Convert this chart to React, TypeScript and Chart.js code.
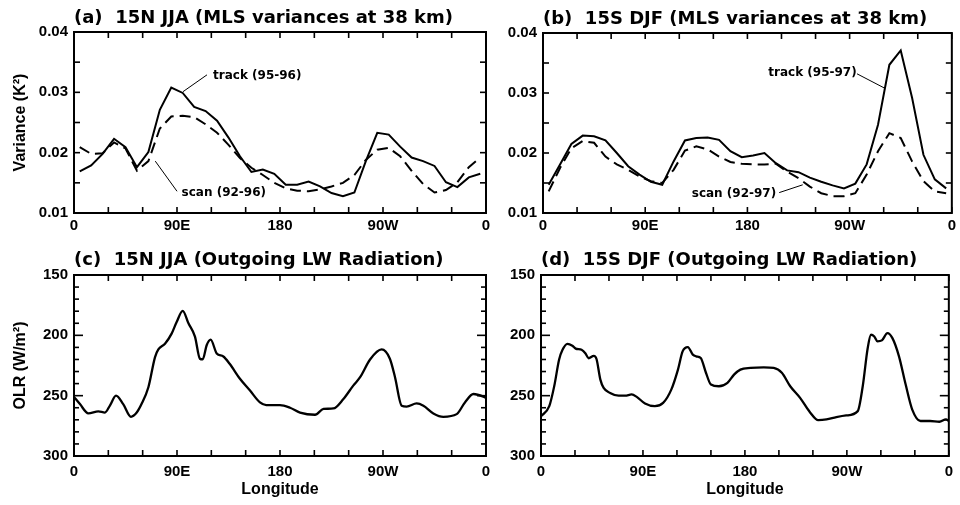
import React, { useEffect, useRef } from 'react';
import { Chart, registerables } from 'chart.js';

Chart.register(...registerables);

// ---------- axis ticks ----------
const lonTickValues = [0, 90, 180, 270, 360];
const lonTickLabels = ['0', '90E', '180', '90W', '0'];
const lonMinorTicks = [0, 30, 60, 90, 120, 150, 180, 210, 240, 270, 300, 330, 360];

const varTickValues = [0.01, 0.02, 0.03, 0.04];
const varMinorTicks = [0.01, 0.015, 0.02, 0.025, 0.03, 0.035, 0.04];

const olrTickValues = [150, 200, 250, 300];
const olrMinorTicks = [150, 160, 170, 180, 190, 200, 210, 220, 230, 240, 250, 260, 270, 280, 290, 300];

// ---------- MLS variance data (longitude in degrees east, 0..360) ----------
const mlsLon = [5, 15, 25, 35, 45, 55, 65, 75, 85, 95, 105, 115, 125, 135, 145, 155, 165, 175,
  185, 195, 205, 215, 225, 235, 245, 255, 265, 275, 285, 295, 305, 315, 325, 335, 345, 355];

const trackA = [0.0169, 0.0179, 0.0198, 0.0223, 0.0209, 0.0176, 0.0201, 0.0271, 0.0308, 0.0299,
  0.0276, 0.0269, 0.0253, 0.0225, 0.0194, 0.0168, 0.0172, 0.0165, 0.0147, 0.0147, 0.0152, 0.0144,
  0.0133, 0.0128, 0.0134, 0.0186, 0.0233, 0.0230, 0.0210, 0.0192, 0.0186, 0.0178, 0.0151, 0.0143,
  0.0159, 0.0165];
const scanA = [0.0209, 0.0198, 0.0199, 0.0217, 0.0207, 0.0170, 0.0186, 0.0240, 0.0260, 0.0261,
  0.0259, 0.0247, 0.0233, 0.0213, 0.0191, 0.0175, 0.0163, 0.0150, 0.0141, 0.0137, 0.0136, 0.0139,
  0.0144, 0.0150, 0.0163, 0.0188, 0.0205, 0.0208, 0.0194, 0.0170, 0.0148, 0.0134, 0.0138, 0.0151,
  0.0176, 0.0192];

const trackB = [0.0147, 0.0181, 0.0215, 0.0229, 0.0228, 0.0221, 0.0200, 0.0178, 0.0164, 0.0152,
  0.0147, 0.0186, 0.0221, 0.0225, 0.0226, 0.0222, 0.0203, 0.0193, 0.0196, 0.0200, 0.0183, 0.0171,
  0.0168, 0.0159, 0.0152, 0.0146, 0.0141, 0.0149, 0.0181, 0.0247, 0.0347, 0.0371, 0.0292, 0.0197,
  0.0156, 0.0141];
const scanB = [0.0136, 0.0175, 0.0208, 0.0220, 0.0217, 0.0194, 0.0181, 0.0172, 0.0161, 0.0153,
  0.0150, 0.0172, 0.0204, 0.0211, 0.0206, 0.0194, 0.0185, 0.0182, 0.0181, 0.0181, 0.0182, 0.0169,
  0.0158, 0.0144, 0.0133, 0.0128, 0.0128, 0.0133, 0.0164, 0.0203, 0.0233, 0.0225, 0.0186, 0.0153,
  0.0136, 0.0133];

// ---------- OLR data ----------
const olrLonC = [0, 5.2, 12.5, 21.3, 27, 31.5, 36.7, 43, 49.8, 54.8, 59, 65, 70.8, 73.7, 79.5, 85.3,
  89.7, 95, 100, 105.7, 110, 112.4, 116, 119.4, 124.7, 130.5, 136, 145, 153.8, 162.5, 168, 180,
  188.8, 197.5, 210.6, 218, 226.6, 235.4, 244, 250, 258.7, 268.8, 276, 280.5, 286.3, 290.7, 299.4,
  305.3, 314, 322.7, 334.4, 341.6, 349, 357.7, 360];
const olrC = [251, 257, 264.7, 263, 264, 258, 250, 257, 267.5, 264, 257, 243, 218, 211.7, 207, 198.6,
  189, 179.7, 190, 201, 219.4, 220, 208, 203.6, 215, 217.5, 223.6, 236, 245.8, 255.6, 257.8, 257.8,
  260, 264, 265.8, 261, 260.6, 252.8, 241.7, 234.7, 220, 211.7, 219.4, 234.7, 258.3, 259, 256.4,
  258.3, 264.7, 267.5, 265.3, 255.6, 248.6, 250.8, 252];

const olrLonD = [0, 7.3, 11.7, 16, 19, 23.3, 27.7, 30.6, 35.8, 39.3, 42, 46.6, 49, 52.4, 55.3, 61,
  68.5, 74.3, 80, 84.5, 91.8, 100.5, 107.8, 115, 120.9, 125, 129.6, 134, 136.9, 141, 145.6, 150, 157,
  164.6, 170.4, 176, 185, 196.6, 205.4, 212.6, 220, 228.7, 237.4, 244.7, 252, 260.7, 269.4, 279.6,
  284, 288.4, 291.3, 294.2, 297, 300.9, 305.8, 310.2, 316, 321.9, 327.7, 335, 343.4, 351.7, 357.5, 360];
const olrD = [267, 258.7, 242, 220, 212, 207, 208.6, 211, 212, 215, 219, 217, 219.6, 236.7, 243.6,
  247.7, 250, 250, 249, 251, 256.5, 258.7, 256, 245, 228.4, 213.3, 209.7, 216, 217.4, 218.8, 231,
  240.8, 242.2, 239.4, 232.6, 228.4, 227, 226.5, 227, 231, 242.2, 251.8, 263.7, 270.3, 269.7, 267.8,
  266.4, 262.8, 242.2, 210.5, 199.5, 201, 205, 204.2, 198.2, 202.3, 217.4, 240.8, 261.5, 271, 271,
  271.6, 269.7, 271];

// ---------- text ----------
const titles = [
  '(a)  15N JJA (MLS variances at 38 km)',
  '(b)  15S DJF (MLS variances at 38 km)',
  '(c)  15N JJA (Outgoing LW Radiation)',
  '(d)  15S DJF (Outgoing LW Radiation)',
];
const varAxisTitle = 'Variance (K²)';
const olrAxisTitle = 'OLR (W/m²)';
const lonAxisTitle = 'Longitude';

const TITLE_FONT = "'DejaVu Sans', 'Liberation Sans', sans-serif";
const FONT = "'Liberation Sans', Arial, Helvetica, sans-serif";
const NOTE_FONT = "'DejaVu Sans', 'Liberation Sans', sans-serif";

type Note = { text: string; x: number; y: number; from: [number, number]; to: [number, number] };

const notesA: Note[] = [
  { text: 'track (95-96)', x: 121.5, y: 0.0327, from: [116.2, 0.0329], to: [95.2, 0.0301] },
  { text: 'scan (92-96)', x: 94, y: 0.0134, from: [90, 0.0136], to: [71, 0.0186] },
];
const notesB: Note[] = [
  { text: 'track (95-97)', x: 198.4, y: 0.0333, from: [276.5, 0.0332], to: [300.9, 0.0308] },
  { text: 'scan (92-97)', x: 131, y: 0.0132, from: [208, 0.0134], to: [228.7, 0.0147] },
];

const frameTicksPlugin = {
  id: 'frameTicks',
  afterDatasetsDraw(chart: any, _args: any, opts: any) {
    const { ctx, chartArea: a, scales } = chart;
    const xs = scales.x;
    const ys = scales.y;
    ctx.save();
    ctx.strokeStyle = '#000';
    ctx.lineCap = 'butt';
    const seg = (x1: number, y1: number, x2: number, y2: number) => {
      ctx.beginPath();
      ctx.moveTo(x1, y1);
      ctx.lineTo(x2, y2);
      ctx.stroke();
    };
    ctx.lineWidth = 1.6;
    for (const v of opts.xMinor) {
      const p = xs.getPixelForValue(v);
      seg(p, a.bottom, p, a.bottom - opts.xLen);
      seg(p, a.top, p, a.top + opts.xLen);
    }
    for (const v of opts.yMinor) {
      const p = ys.getPixelForValue(v);
      const len = opts.yMajor.includes(v) ? opts.yMajorLen : opts.yMinorLen;
      seg(a.left, p, a.left + len, p);
      seg(a.right, p, a.right - len, p);
    }
    ctx.lineWidth = 2;
    ctx.strokeRect(a.left, a.top, a.right - a.left, a.bottom - a.top);
    ctx.lineWidth = 1;
    ctx.fillStyle = '#000';
    ctx.font = `bold 12px ${NOTE_FONT}`;
    ctx.textBaseline = 'middle';
    ctx.textAlign = 'left';
    for (const n of opts.notes as Note[]) {
      seg(
        xs.getPixelForValue(n.from[0]), ys.getPixelForValue(n.from[1]),
        xs.getPixelForValue(n.to[0]), ys.getPixelForValue(n.to[1]),
      );
      ctx.fillText(n.text, xs.getPixelForValue(n.x), ys.getPixelForValue(n.y));
    }
    ctx.restore();
  },
};

type Panel = {
  left: number; top: number; width: number; height: number;
  areaLeft: number; areaTop: number; padRight: number; xAxisH: number;
  titleCenter: number; title: string;
  yTitle: string | null; xTitle: string | null;
  kind: 'var' | 'olr';
  datasets: any[];
  notes: Note[];
  xLabelPad: number;
};

const pts = (xs: number[], ys: number[]) => xs.map((x, i) => ({ x, y: ys[i] }));

const solid = (label: string, data: any[], smooth = false) => ({
  label, data, borderColor: '#000', borderWidth: smooth ? 2.3 : 2, pointRadius: 0,
  fill: false, tension: smooth ? 0.4 : 0, cubicInterpolationMode: smooth ? 'monotone' : 'default',
});
const dashed = (label: string, data: any[]) => ({
  label, data, borderColor: '#000', borderWidth: 2, pointRadius: 0, fill: false, tension: 0,
  borderDash: [11, 6],
});

const panels: Panel[] = [
  {
    left: 0, top: 0, width: 500, height: 248, areaLeft: 74, areaTop: 32, padRight: 14, xAxisH: 35,
    titleCenter: 18, title: titles[0], yTitle: varAxisTitle, xTitle: null, kind: 'var',
    datasets: [solid('track (95-96)', pts(mlsLon, trackA)), dashed('scan (92-96)', pts(mlsLon, scanA))],
    notes: notesA, xLabelPad: 4,
  },
  {
    left: 490, top: 0, width: 470, height: 248, areaLeft: 53, areaTop: 33, padRight: 5, xAxisH: 35,
    titleCenter: 19, title: titles[1], yTitle: null, xTitle: null, kind: 'var',
    datasets: [solid('track (95-97)', pts(mlsLon, trackB)), dashed('scan (92-97)', pts(mlsLon, scanB))],
    notes: notesB, xLabelPad: 4,
  },
  {
    left: 0, top: 248, width: 500, height: 257, areaLeft: 74, areaTop: 27, padRight: 14, xAxisH: 49,
    titleCenter: 12, title: titles[2], yTitle: olrAxisTitle, xTitle: lonAxisTitle, kind: 'olr',
    datasets: [solid('OLR 15N JJA', pts(olrLonC, olrC), true)],
    notes: [], xLabelPad: 7,
  },
  {
    left: 490, top: 248, width: 470, height: 257, areaLeft: 51, areaTop: 27, padRight: 7, xAxisH: 49,
    titleCenter: 12, title: titles[3], yTitle: null, xTitle: lonAxisTitle, kind: 'olr',
    datasets: [solid('OLR 15S DJF', pts(olrLonD, olrD), true)],
    notes: [], xLabelPad: 7,
  },
];

function buildConfig(p: Panel): any {
  const isVar = p.kind === 'var';
  const titleLH = 18 * 1.2;
  const tPadTop = p.titleCenter - titleLH / 2;
  const tPadBottom = p.areaTop - tPadTop - titleLH;
  return {
    type: 'line',
    data: { datasets: p.datasets },
    options: {
      animation: false,
      responsive: false,
      events: [],
      layout: { padding: { left: 0, right: p.padRight, top: 0, bottom: 0 } },
      plugins: {
        legend: { display: false },
        tooltip: { enabled: false },
        title: {
          display: true, text: p.title, align: 'start', fullSize: false, color: '#000',
          font: { family: TITLE_FONT, size: 18, weight: 'bold', lineHeight: 1.2 },
          padding: { top: tPadTop, bottom: tPadBottom },
        },
        frameTicks: {
          xMinor: lonMinorTicks, xLen: 6,
          yMinor: isVar ? varMinorTicks : olrMinorTicks,
          yMajor: isVar ? varTickValues : olrTickValues,
          yMajorLen: isVar ? 6 : 9, yMinorLen: isVar ? 6 : 5,
          notes: p.notes,
        },
      },
      scales: {
        x: {
          type: 'linear', min: 0, max: 360,
          afterBuildTicks: (s: any) => { s.ticks = lonTickValues.map((value) => ({ value })); },
          afterFit: (s: any) => { s.height = p.xAxisH; },
          grid: { display: false, drawTicks: false },
          border: { display: false },
          ticks: {
            autoSkip: false, maxRotation: 0, padding: p.xLabelPad, color: '#000',
            font: { family: FONT, size: 15, weight: 'bold' },
            callback: (_v: any, i: number) => lonTickLabels[i],
          },
          title: p.xTitle
            ? { display: true, text: p.xTitle, color: '#000', font: { family: FONT, size: 16, weight: 'bold', lineHeight: 1.2 }, padding: { top: 0, bottom: 5.5 } }
            : { display: false },
        },
        y: {
          type: 'linear',
          min: isVar ? 0.01 : 150,
          max: isVar ? 0.04 : 300,
          reverse: !isVar,
          afterBuildTicks: (s: any) => {
            s.ticks = (isVar ? varTickValues : olrTickValues).map((value) => ({ value }));
          },
          afterFit: (s: any) => { s.width = p.areaLeft; },
          grid: { display: false, drawTicks: false },
          border: { display: false },
          ticks: {
            autoSkip: false, padding: 6, color: '#000',
            font: { family: FONT, size: 15, weight: 'bold' },
            callback: (v: any) => (isVar ? Number(v).toFixed(2) : String(v)),
          },
          title: p.yTitle
            ? { display: true, text: p.yTitle, color: '#000', font: { family: FONT, size: 16, weight: 'bold', lineHeight: 1.2 }, padding: { top: 10.5, bottom: 0 } }
            : { display: false },
        },
      },
    },
    plugins: [frameTicksPlugin],
  };
}

function PanelChart({ p }: { p: Panel }) {
  const ref = useRef<HTMLCanvasElement | null>(null);
  useEffect(() => {
    if (!ref.current) return;
    const chart = new Chart(ref.current, buildConfig(p));
    return () => chart.destroy();
  }, [p]);
  return (
    <canvas
      ref={ref}
      width={p.width}
      height={p.height}
      style={{ position: 'absolute', left: p.left, top: p.top, width: p.width, height: p.height }}
    />
  );
}

export default function App() {
  return (
    <div style={{ position: 'fixed', left: 0, top: 0, width: 960, height: 505, background: '#fff', overflow: 'hidden' }}>
      {panels.map((p, i) => <PanelChart key={i} p={p} />)}
    </div>
  );
}
